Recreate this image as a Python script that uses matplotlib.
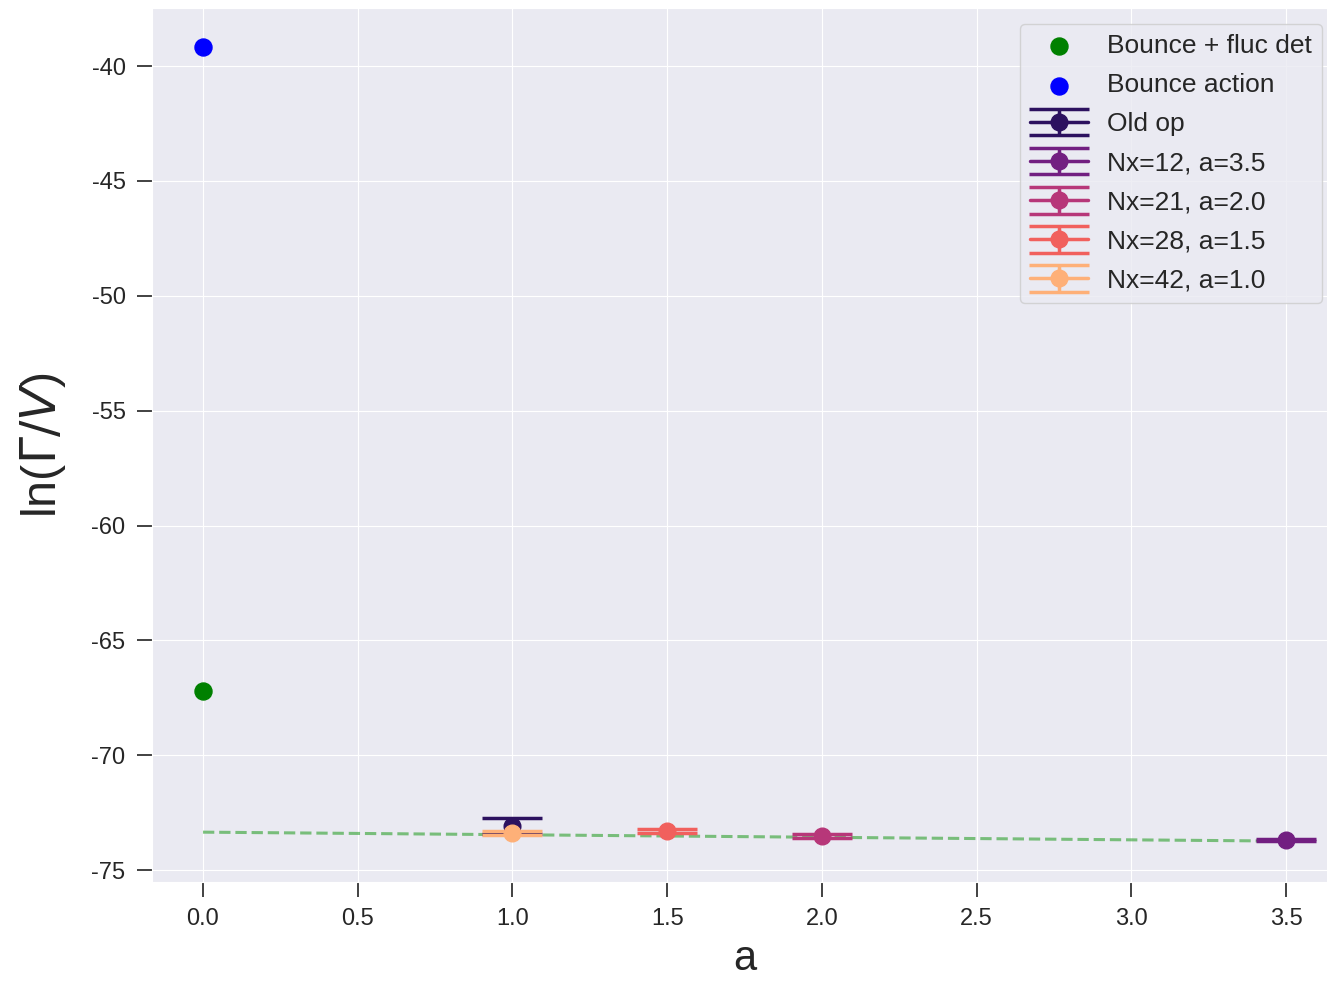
import numpy as np
import matplotlib
matplotlib.use("Agg")
import matplotlib.pyplot as plt
import seaborn as sns

sns.set_style("darkgrid")
plt.rcParams['font.family'] = ['Liberation Sans', 'DejaVu Sans']
plt.rcParams['mathtext.fontset'] = 'dejavusans'
plt.rcParams['axes.unicode_minus'] = False

# single-point references at a = 0
bounce_fluc_a = [0.0]
bounce_fluc_val = [-67.2]
bounce_action_a = [0.0]
bounce_action_val = [-39.17]

# lattice results
labels = ["Old op", "Nx=12, a=3.5", "Nx=21, a=2.0", "Nx=28, a=1.5", "Nx=42, a=1.0"]
a_vals = [1.0, 3.5, 2.0, 1.5, 1.0]
ln_rate = [-73.08, -73.69, -73.52, -73.30, -73.39]
ln_err = [0.35, 0.04, 0.08, 0.08, 0.08]

# linear extrapolation line
fit_a = [0.0, 3.5]
fit_val = [-73.35, -73.74]

colors = sns.color_palette("magma", 5)

fig, ax = plt.subplots(figsize=(13.27, 9.82), dpi=100)

ax.scatter(bounce_fluc_a, bounce_fluc_val, color='green', s=150, label='Bounce + fluc det', zorder=3)
ax.scatter(bounce_action_a, bounce_action_val, color='blue', s=150, label='Bounce action', zorder=3)

for lab, a, v, e, c in zip(labels, a_vals, ln_rate, ln_err, colors):
    ax.errorbar([a], [v], yerr=[e], fmt='o', ls='-', lw=2.5, color=c, markersize=12,
                capsize=21.5, elinewidth=2.5, capthick=2.5, label=lab, zorder=3)

ax.plot(fit_a, fit_val, '--', color='#2ca02c', alpha=0.6, lw=2.2, zorder=2)

ax.set_xlim(-0.1648, 3.668)
ax.set_ylim(-75.52, -37.47)
ax.set_xlabel('a', fontsize=30, labelpad=6)
ax.set_ylabel(r'ln($\Gamma/V$)', fontsize=35, labelpad=17)
ax.tick_params(axis='both', labelsize=17, length=11, width=1.3, color='0.2',
               direction='out', bottom=True, left=True, labelcolor='0.15')
ax.tick_params(axis='x', pad=8)
ax.tick_params(axis='y', pad=8)

leg = ax.legend(loc='upper right', fontsize=19, frameon=True, borderaxespad=0.6,
                handlelength=2.2, handletextpad=0.7, labelspacing=0.57)

# axes runs a little past the right edge of the image, like the cropped original
fig.subplots_adjust(left=152 / 1327, right=1338 / 1327, top=1 - 8 / 982, bottom=1 - 882 / 982)
fig.savefig('out.png', dpi=100)
